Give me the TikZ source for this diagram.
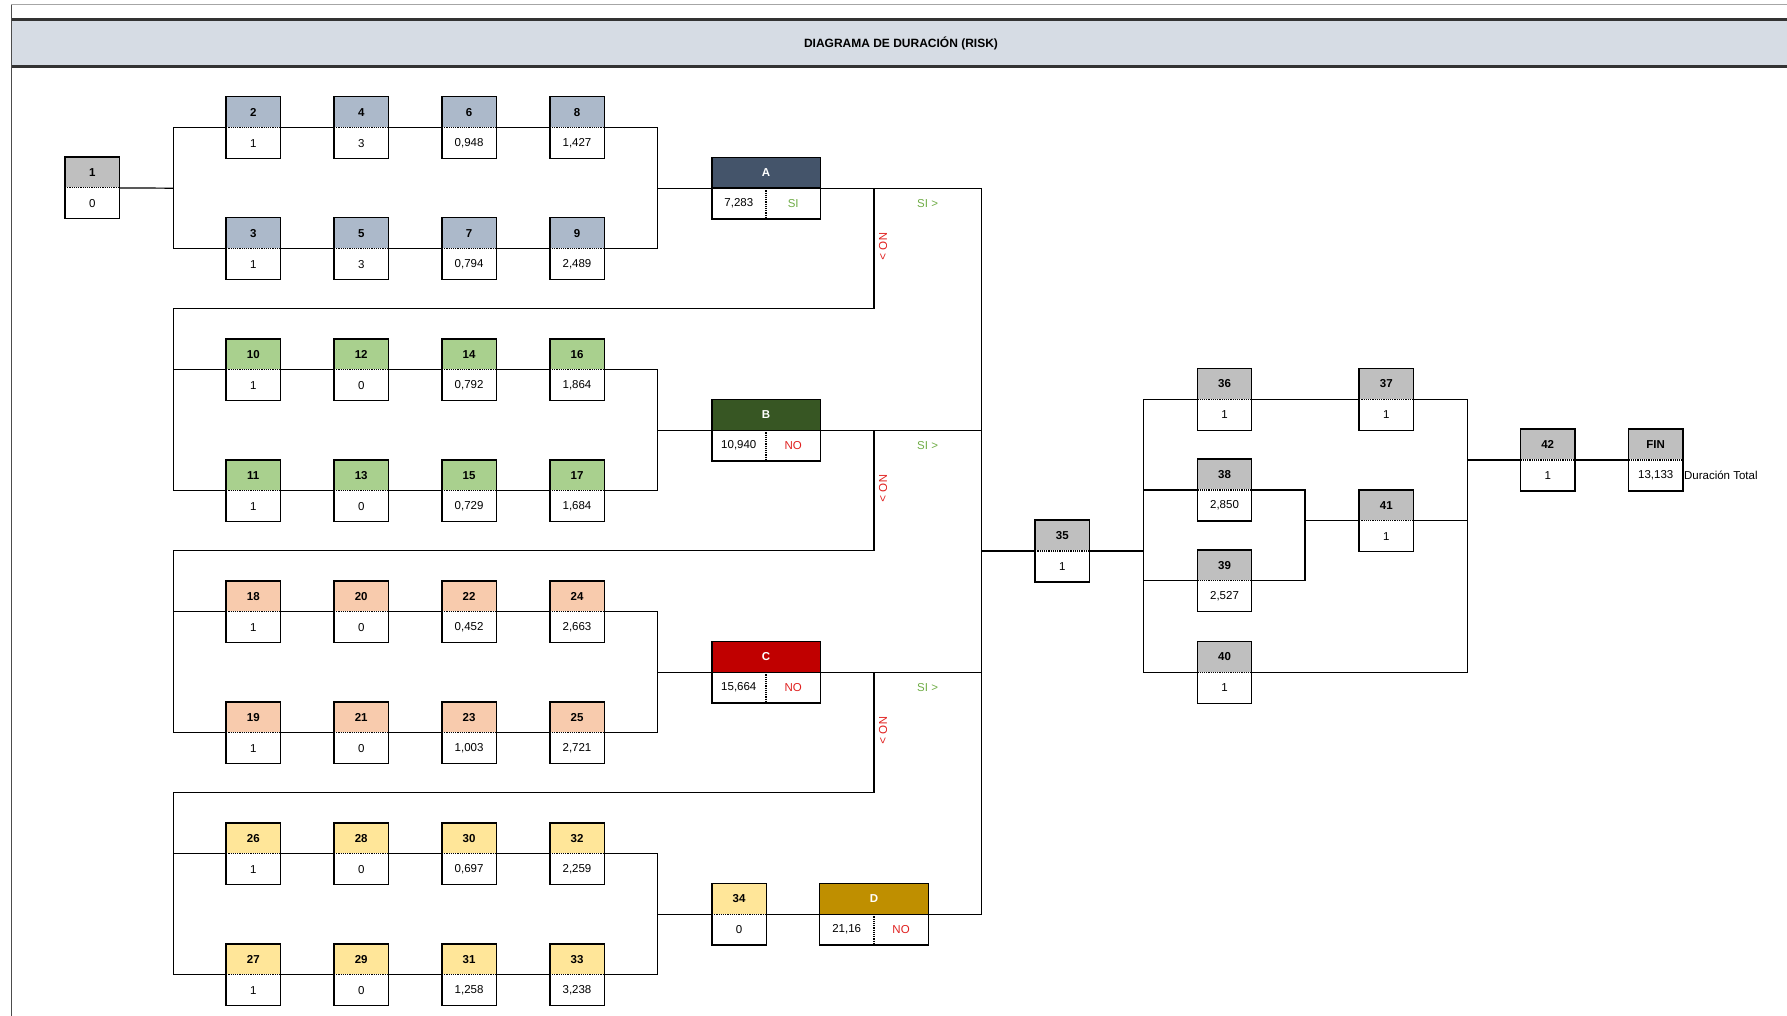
\documentclass[tikz,border=0pt]{standalone}
\usepackage{fontspec}
\setmainfont{Liberation Sans}
\definecolor{cgray}{HTML}{BFBFBF}
\definecolor{cblue}{HTML}{ACB9CA}
\definecolor{cgreen}{HTML}{A9D08E}
\definecolor{cpeach}{HTML}{F8CBAD}
\definecolor{cyellow}{HTML}{FFE699}
\definecolor{cA}{HTML}{44546A}
\definecolor{cB}{HTML}{375623}
\definecolor{cC}{HTML}{C00000}
\definecolor{cD}{HTML}{BF8F00}
\definecolor{siG}{HTML}{70AD47}
\definecolor{noR}{HTML}{E0201F}
\definecolor{band}{HTML}{D6DCE4}
\newcommand\fsz{\fontsize{11.5}{13}\selectfont}
\tikzset{
  hdr/.style={minimum width=54pt, minimum height=30.5pt, inner sep=0pt, font=\fsz\bfseries, anchor=south},
  val/.style={minimum width=54pt, minimum height=30.5pt, inner sep=0pt, font=\fsz, anchor=north, fill=white},
  boxline/.style={line width=1.4pt, black},
  divline/.style={line width=1.2pt, densely dotted},
  conn/.style={line width=1.2pt, black},
  si/.style={font=\fsz, text=siG},
  no/.style={font=\fsz, text=noR, rotate=-90},
}
% name, x, y(divider), fill, label, value
\newcommand\tbox[6]{%
  \node[hdr,fill=#4] (#1) at (#2,#3) {#5};
  \node[val] (#1v) at (#2,#3) {#6};
  \draw[boxline] (#1.north west) rectangle (#1v.south east);
  \draw[white,line width=1.2pt] ([xshift=0.7pt]#1.south west) -- ([xshift=-0.7pt]#1.south east);
  \draw[divline] (#1.south west) -- (#1.south east);
}
% name, x, y, fill, label, value, flag, flagcolour
\newcommand\dbox[8]{%
  \node[hdr,fill=#4,minimum width=108pt,text=white] (#1) at (#2,#3) {#5};
  \node[val,anchor=north east] (#1v) at (#2,#3) {#6};
  \node[val,anchor=north west,text=#8] (#1f) at (#2,#3) {#7};
  \draw[boxline] (#1.north west) rectangle (#1f.south east);
  \draw[boxline] (#1.south west) -- (#1.south east);
  \draw[divline] (#1v.north east) -- (#1v.south east);
}
\begin{document}
\begin{tikzpicture}[x=1pt,y=-1pt]
\useasboundingbox (0,0) rectangle (1787,1016);
% header band
\fill[band] (11.4,19.5) rectangle (1787,67);
\draw[gray!70,line width=1pt] (11.4,5) -- (1787,5);
\draw[black!80,line width=3pt] (11.4,19.5) -- (1787,19.5);
\draw[black!80,line width=3pt] (11.4,67) -- (1787,67);
\draw[black!70,line width=1pt] (11.4,5) -- (11.4,1016);
\node[font=\fontsize{12}{14}\selectfont\bfseries] (title) at (901,43.3) {DIAGRAMA DE DURACIÓN (RISK)};

% nodes
\tbox{n1}{92.2}{187.9}{cgray}{1}{0}
% group 1
\tbox{n2}{253.3}{127.7}{cblue}{2}{1}
\tbox{n4}{361.2}{127.7}{cblue}{4}{3}
\tbox{n6}{469.1}{127.7}{cblue}{6}{0,948}
\tbox{n8}{577.0}{127.7}{cblue}{8}{1,427}
\tbox{n3}{253.3}{248.7}{cblue}{3}{1}
\tbox{n5}{361.2}{248.7}{cblue}{5}{3}
\tbox{n7}{469.1}{248.7}{cblue}{7}{0,794}
\tbox{n9}{577.0}{248.7}{cblue}{9}{2,489}
% group 2
\tbox{n10}{253.3}{369.7}{cgreen}{10}{1}
\tbox{n12}{361.2}{369.7}{cgreen}{12}{0}
\tbox{n14}{469.1}{369.7}{cgreen}{14}{0,792}
\tbox{n16}{577.0}{369.7}{cgreen}{16}{1,864}
\tbox{n11}{253.3}{490.7}{cgreen}{11}{1}
\tbox{n13}{361.2}{490.7}{cgreen}{13}{0}
\tbox{n15}{469.1}{490.7}{cgreen}{15}{0,729}
\tbox{n17}{577.0}{490.7}{cgreen}{17}{1,684}
% group 3
\tbox{n18}{253.3}{611.7}{cpeach}{18}{1}
\tbox{n20}{361.2}{611.7}{cpeach}{20}{0}
\tbox{n22}{469.1}{611.7}{cpeach}{22}{0,452}
\tbox{n24}{577.0}{611.7}{cpeach}{24}{2,663}
\tbox{n19}{253.3}{732.7}{cpeach}{19}{1}
\tbox{n21}{361.2}{732.7}{cpeach}{21}{0}
\tbox{n23}{469.1}{732.7}{cpeach}{23}{1,003}
\tbox{n25}{577.0}{732.7}{cpeach}{25}{2,721}
% group 4
\tbox{n26}{253.3}{853.7}{cyellow}{26}{1}
\tbox{n28}{361.2}{853.7}{cyellow}{28}{0}
\tbox{n30}{469.1}{853.7}{cyellow}{30}{0,697}
\tbox{n32}{577.0}{853.7}{cyellow}{32}{2,259}
\tbox{n27}{253.3}{974.7}{cyellow}{27}{1}
\tbox{n29}{361.2}{974.7}{cyellow}{29}{0}
\tbox{n31}{469.1}{974.7}{cyellow}{31}{1,258}
\tbox{n33}{577.0}{974.7}{cyellow}{33}{3,238}
\tbox{n34}{739.1}{914.2}{cyellow}{34}{0}
% decisions
\dbox{A}{766}{188.2}{cA}{A}{7,283}{SI}{siG}
\dbox{B}{766}{430.2}{cB}{B}{10,940}{NO}{noR}
\dbox{C}{766}{672.2}{cC}{C}{15,664}{NO}{noR}
\dbox{D}{873.9}{914.2}{cD}{D}{21,16}{NO}{noR}
% right part
\tbox{n35}{1062.3}{551}{cgray}{35}{1}
\tbox{n36}{1224.5}{399.3}{cgray}{36}{1}
\tbox{n38}{1224.5}{490}{cgray}{38}{2,850}
\tbox{n39}{1224.5}{580.7}{cgray}{39}{2,527}
\tbox{n40}{1224.5}{672.3}{cgray}{40}{1}
\tbox{n37}{1386.3}{399.3}{cgray}{37}{1}
\tbox{n41}{1386.3}{520.7}{cgray}{41}{1}
\tbox{n42}{1547.7}{460}{cgray}{42}{1}
\tbox{fin}{1655.7}{460}{cgray}{FIN}{13,133}
\node[font=\fsz,anchor=west,inner sep=1pt] (dur) at (fin.south east |- finv.east) {Duración Total};

% junction coordinates
\coordinate (L1) at (173.3,188.2);
\coordinate (M1) at (657.8,188.2);
\coordinate (M2) at (657.8,430.2);
\coordinate (M3) at (657.8,672.2);
\coordinate (M4) at (657.8,914.2);
\coordinate (N1) at (873.9,188.2);
\coordinate (N2) at (873.9,430.2);
\coordinate (N3) at (873.9,672.2);
\coordinate (R1) at (173.3,308.7);
\coordinate (R2) at (173.3,550.7);
\coordinate (R3) at (173.3,792.7);
\coordinate (V1) at (981.7,188.2);
\coordinate (K) at (1143.3,551);
\coordinate (P) at (1305,520.7);
\coordinate (Q) at (1467.3,460);

% group 1
\draw[conn] (n1.south east) -- (L1);
\draw[conn] (n2.south west) -| (L1) |- (n3.south west);
\draw[conn] (n2.south east) -- (n4.south west);
\draw[conn] (n4.south east) -- (n6.south west);
\draw[conn] (n6.south east) -- (n8.south west);
\draw[conn] (n3.south east) -- (n5.south west);
\draw[conn] (n5.south east) -- (n7.south west);
\draw[conn] (n7.south east) -- (n9.south west);
\draw[conn] (n8.south east) -| (M1) |- (n9.south east);
\draw[conn] (M1) -- (A.south west);
% group 2
\draw[conn] (N1) |- (R1) |- (n11.south west);
\draw[conn] (n10.south west) -- (n10.south west -| R1);
\draw[conn] (n10.south east) -- (n12.south west);
\draw[conn] (n12.south east) -- (n14.south west);
\draw[conn] (n14.south east) -- (n16.south west);
\draw[conn] (n11.south east) -- (n13.south west);
\draw[conn] (n13.south east) -- (n15.south west);
\draw[conn] (n15.south east) -- (n17.south west);
\draw[conn] (n16.south east) -| (M2) |- (n17.south east);
\draw[conn] (M2) -- (B.south west);
% group 3
\draw[conn] (N2) |- (R2) |- (n19.south west);
\draw[conn] (n18.south west) -- (n18.south west -| R2);
\draw[conn] (n18.south east) -- (n20.south west);
\draw[conn] (n20.south east) -- (n22.south west);
\draw[conn] (n22.south east) -- (n24.south west);
\draw[conn] (n19.south east) -- (n21.south west);
\draw[conn] (n21.south east) -- (n23.south west);
\draw[conn] (n23.south east) -- (n25.south west);
\draw[conn] (n24.south east) -| (M3) |- (n25.south east);
\draw[conn] (M3) -- (C.south west);
% group 4
\draw[conn] (N3) |- (R3) |- (n27.south west);
\draw[conn] (n26.south west) -- (n26.south west -| R3);
\draw[conn] (n26.south east) -- (n28.south west);
\draw[conn] (n28.south east) -- (n30.south west);
\draw[conn] (n30.south east) -- (n32.south west);
\draw[conn] (n27.south east) -- (n29.south west);
\draw[conn] (n29.south east) -- (n31.south west);
\draw[conn] (n31.south east) -- (n33.south west);
\draw[conn] (n32.south east) -| (M4) |- (n33.south east);
\draw[conn] (M4) -- (n34.south west);
\draw[conn] (n34.south east) -- (D.south west);
% main vertical
\draw[conn] (A.south east) -- (V1) |- (D.south east);
\draw[conn] (B.south east) -- (B.south east -| V1);
\draw[conn] (C.south east) -- (C.south east -| V1);
\draw[conn] (n35.south west) -- (n35.south west -| V1);
% right part
\draw[conn] (n35.south east) -- (K);
\draw[conn] (n36.south west) -| (K) |- (n40.south west);
\draw[conn] (n38.south west) -- (n38.south west -| K);
\draw[conn] (n39.south west) -- (n39.south west -| K);
\draw[conn] (n36.south east) -- (n37.south west);
\draw[conn] (n38.south east) -| (P) |- (n39.south east);
\draw[conn] (P) -- (n41.south west);
\draw[conn] (n37.south east) -| (Q) |- (n40.south east);
\draw[conn] (n41.south east) -- (n41.south east -| Q);
\draw[conn] (Q) -- (n42.south west);
\draw[conn] (n42.south east) -- (fin.south west);

% SI / NO labels
\node[si] (si1) at (927.6,203.2) {SI >};
\node[si] (si2) at (927.6,445.2) {SI >};
\node[si] (si3) at (927.6,687.2) {SI >};
\node[no] (no1) at (883,246.5) {NO >};
\node[no] (no2) at (883,488.5) {NO >};
\node[no] (no3) at (883,730.5) {NO >};
\end{tikzpicture}
\end{document}
